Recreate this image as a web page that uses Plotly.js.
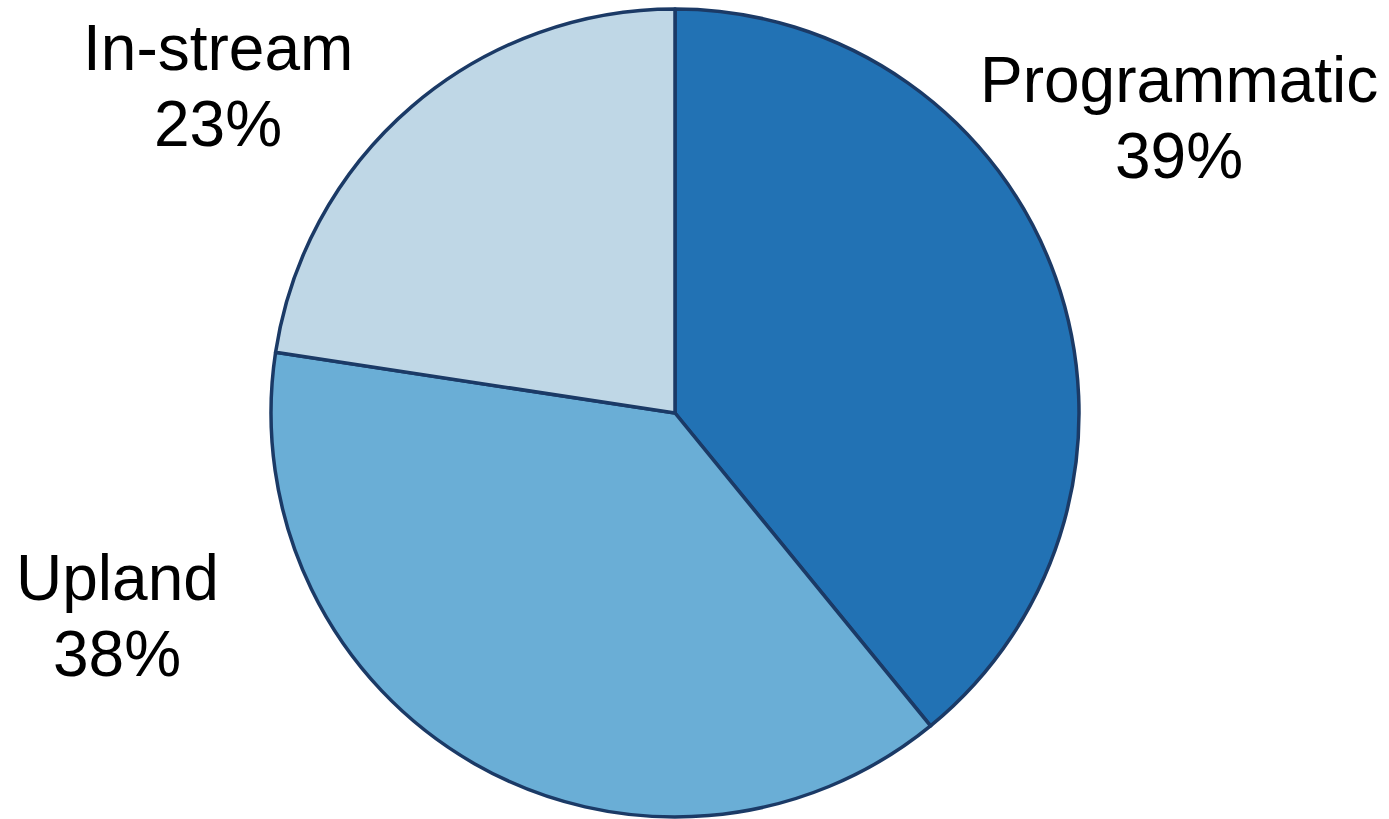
<!DOCTYPE html>
<html>
<head>
<meta charset="utf-8">
<script src="https://cdn.plot.ly/plotly-3.0.1.min.js"></script>
<style>html,body{margin:0;padding:0;background:#fff;}#chart{width:1389px;height:819px;}</style>
</head>
<body>
<div id="chart"></div>
<script>
const categories = ["Programmatic", "Upland", "In-stream"];
const shares = [39.1, 38.3, 22.6];
const colors = ["#2272b4", "#6aaed6", "#bfd7e6"];

const W = 1389, H = 819;
const total = shares.reduce((a, b) => a + b, 0);
const pct = shares.map(v => Math.round(v / total * 100) + "%");

// label block centres in pixels (name line, percent line)
const labelPos = [
  {x: 1179, y1: 80, y2: 156},
  {x: 117, y1: 578, y2: 654},
  {x: 218, y1: 48, y2: 124}
];

const annotations = [];
categories.forEach((c, i) => {
  const p = labelPos[i];
  annotations.push({text: c, x: p.x / W, y: 1 - p.y1 / H, xref: "paper", yref: "paper",
    showarrow: false, xanchor: "center", yanchor: "middle",
    font: {family: "Liberation Sans, Arial, sans-serif", size: 64, color: "#000"}});
  annotations.push({text: pct[i], x: p.x / W, y: 1 - p.y2 / H, xref: "paper", yref: "paper",
    showarrow: false, xanchor: "center", yanchor: "middle",
    font: {family: "Liberation Sans, Arial, sans-serif", size: 64, color: "#000"}});
});

const cx = 675, cy = 413, r = 404;
const trace = {
  type: "pie",
  labels: categories,
  values: shares,
  sort: false,
  direction: "clockwise",
  rotation: 0,
  textinfo: "none",
  hoverinfo: "label+percent",
  marker: {colors: colors, line: {color: "#1b3a66", width: 3.5}},
  domain: {x: [(cx - r) / W, (cx + r) / W], y: [(H - cy - r) / H, (H - cy + r) / H]},
  showlegend: false
};

Plotly.newPlot("chart", [trace], {
  width: W, height: H,
  margin: {l: 0, r: 0, t: 0, b: 0},
  paper_bgcolor: "#fff",
  showlegend: false,
  annotations: annotations
}, {displayModeBar: false, staticPlot: true});
</script>
</body>
</html>
